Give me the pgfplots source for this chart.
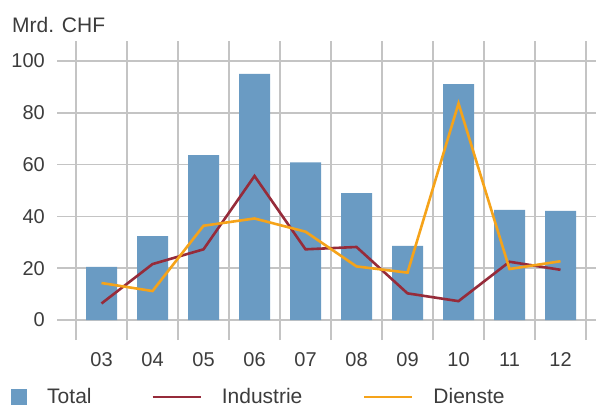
\documentclass[border=0pt]{standalone}
\usepackage{fontspec}
\setmainfont{Liberation Sans}
\usepackage{pgfplots}
\pgfplotsset{compat=1.18}
\definecolor{barblue}{HTML}{6A9BC3}
\definecolor{indred}{HTML}{962B3A}
\definecolor{dienor}{HTML}{F5A31A}
\definecolor{gridc}{HTML}{C4C4C4}
\definecolor{txt}{HTML}{3C3C3C}
\newcommand{\lf}{\fontsize{20pt}{24pt}\selectfont}
\newcommand{\tf}{\fontsize{21pt}{25pt}\selectfont}
\begin{document}
\lf
\begin{tikzpicture}
\path[use as bounding box] (-57pt,-68pt) rectangle (539pt,340pt);
\begin{axis}[
  at={(0pt,0pt)}, anchor=south west,
  scale only axis, width=539pt, height=299pt,
  xmin=-0.873, xmax=9.696, ymin=-7.7, ymax=107.7,
  axis line style={draw=none},
  major tick length=0pt, minor tick length=0pt,
  xtick={0,...,9}, xticklabels={03,04,05,06,07,08,09,10,11,12},
  minor xtick={-0.5,0.5,1.5,2.5,3.5,4.5,5.5,6.5,7.5,8.5,9.5},
  xminorgrids=true, ymajorgrids=true, xmajorgrids=false,
  ytick={0,20,40,60,80,100},
  major grid style={gridc, line width=1.6pt},
  minor grid style={gridc, line width=1.6pt},
  tick label style={font=\lf, text=txt},
  yticklabel style={anchor=east, inner sep=0pt, xshift=-12pt},
  xticklabel style={anchor=north, inner sep=0pt, yshift=-12.5pt},
  /pgf/number format/assume math mode=true,
  clip=false,
  legend columns=3,
  legend style={at={(rel axis cs:-0.0853,-0.1906)}, anchor=west, draw=none, fill=none,
    inner sep=0pt, row sep=0pt, column sep=0pt, font=\tf, text=txt,
    nodes={inner sep=0pt}},
  legend cell align=left,
  /tikz/every odd column/.append style={column sep=20pt},
]
\addplot[ybar, bar width=31pt, bar shift=0pt, fill=barblue, draw=none,
  legend image code/.code={\fill[barblue] (0pt,-8pt) rectangle (16pt,8pt);}]
  coordinates {(0,20.5) (1,32.4) (2,63.7) (3,95.0) (4,60.9) (5,49.0) (6,28.6) (7,91.1) (8,42.5) (9,42.1)};
\addlegendentry{\makebox[104pt][l]{Total}}
\addplot[indred, line width=2.6pt, line join=miter, mark=none,
  legend image code/.code={\draw[indred, line width=2.6pt] (0pt,0pt) -- (48pt,0pt);}]
  coordinates {(0,6.4) (1,21.6) (2,27.3) (3,55.6) (4,27.3) (5,28.2) (6,10.3) (7,7.3) (8,22.5) (9,19.4)};
\addlegendentry{\makebox[141pt][l]{Industrie}}
\addplot[dienor, line width=2.6pt, line join=miter, mark=none,
  legend image code/.code={\draw[dienor, line width=2.6pt] (0pt,0pt) -- (48pt,0pt);}]
  coordinates {(0,14.3) (1,11.2) (2,36.4) (3,39.2) (4,34.1) (5,20.7) (6,18.3) (7,83.6) (8,19.7) (9,22.7)};
\addlegendentry{Dienste}
\end{axis}
\node[anchor=base west, inner sep=0pt, text=txt, font=\tf] at (-45pt,308pt) {Mrd. CHF};
\end{tikzpicture}
\end{document}
